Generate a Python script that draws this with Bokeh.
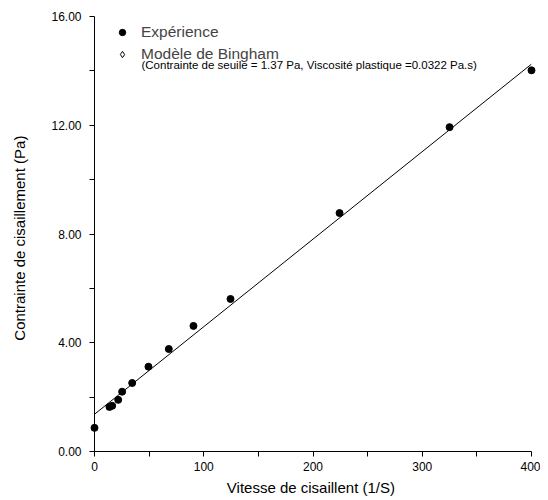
from bokeh.plotting import figure
from bokeh.models import (FixedTicker, NumeralTickFormatter, Legend, LegendItem,
                          Label, Range1d)
from bokeh.embed import file_html
from bokeh.resources import INLINE

# Experimental data
shear_rate = [0, 13.7, 16.2, 21.7, 25.3, 34.5, 49.4, 68, 90.6, 124.5, 224.3, 325, 400]
shear_stress = [0.87, 1.64, 1.68, 1.90, 2.20, 2.52, 3.12, 3.77, 4.62, 5.61, 8.77, 11.93, 14.02]

# Bingham model line endpoints (tau0 = 1.37 Pa, mu_p = 0.0322 Pa.s)
model_x = [0, 400]
model_y = [1.37, 14.25]

x_ticks = [0, 100, 200, 300, 400]
x_minor = [50, 150, 250, 350]
y_ticks = [0, 4, 8, 12, 16]
y_minor = [2, 6, 10, 14]

FONT = "Liberation Sans"

p = figure(width=540, height=498, output_backend="svg", toolbar_location=None,
           x_range=Range1d(0, 400), y_range=Range1d(0, 16),
           min_border_left=94, min_border_right=9, min_border_top=16, min_border_bottom=46)
p.outline_line_color = None
p.xgrid.visible = False
p.ygrid.visible = False
p.background_fill_color = "white"
p.border_fill_color = "white"

line_r = p.line(model_x, model_y, line_color="black", line_width=1)
pts = p.scatter(shear_rate, shear_stress, size=7, marker="circle",
                fill_color="black", line_color="black", level="overlay")
dummy = p.scatter([float("nan")], [float("nan")], marker="diamond", size=12,
                  fill_color="white", line_color="black")

for ax in (p.xaxis[0], p.yaxis[0]):
    ax.axis_line_color = "black"
    ax.major_tick_line_color = "black"
    ax.minor_tick_line_color = "black"
    ax.major_tick_in = 0
    ax.major_tick_out = 5
    ax.minor_tick_in = 0
    ax.minor_tick_out = 5
    ax.major_label_text_font = FONT
    ax.major_label_text_font_size = "12px"
    ax.major_label_text_color = "black"
    ax.axis_label_text_font = FONT
    ax.axis_label_text_font_size = "15px"
    ax.axis_label_text_font_style = "normal"
    ax.axis_label_text_color = "black"

p.xaxis.ticker = FixedTicker(ticks=x_ticks, minor_ticks=x_minor)
p.yaxis.ticker = FixedTicker(ticks=y_ticks, minor_ticks=y_minor)
p.yaxis.formatter = NumeralTickFormatter(format="0.00")
p.xaxis.major_label_standoff = 5
p.yaxis.major_label_standoff = 8
p.xaxis.axis_label = "Vitesse de cisaillent  (1/S)"
p.yaxis.axis_label = "Contrainte  de cisaillement  (Pa)"
p.xaxis.axis_label_standoff = 5
p.yaxis.axis_label_standoff = 20

legend = Legend(items=[LegendItem(label="Expérience", renderers=[pts]),
                       LegendItem(label="Modèle de Bingham", renderers=[dummy])],
                location=(20, 388), orientation="vertical",
                label_text_font=FONT, label_text_font_size="15.5px",
                glyph_width=16, glyph_height=16, label_standoff=11,
                spacing=4, padding=0, margin=0,
                border_line_alpha=0, background_fill_alpha=0, label_height=16)
p.add_layout(legend)

sub = Label(x=43, y=14.2, text="(Contrainte de seuile = 1.37 Pa,  Viscosité plastique =0.0322 Pa.s)",
            text_font=FONT, text_font_size="11.5px", text_baseline="middle", text_color="black")
p.add_layout(sub)

open("out.html", "w").write(file_html(p, INLINE))
